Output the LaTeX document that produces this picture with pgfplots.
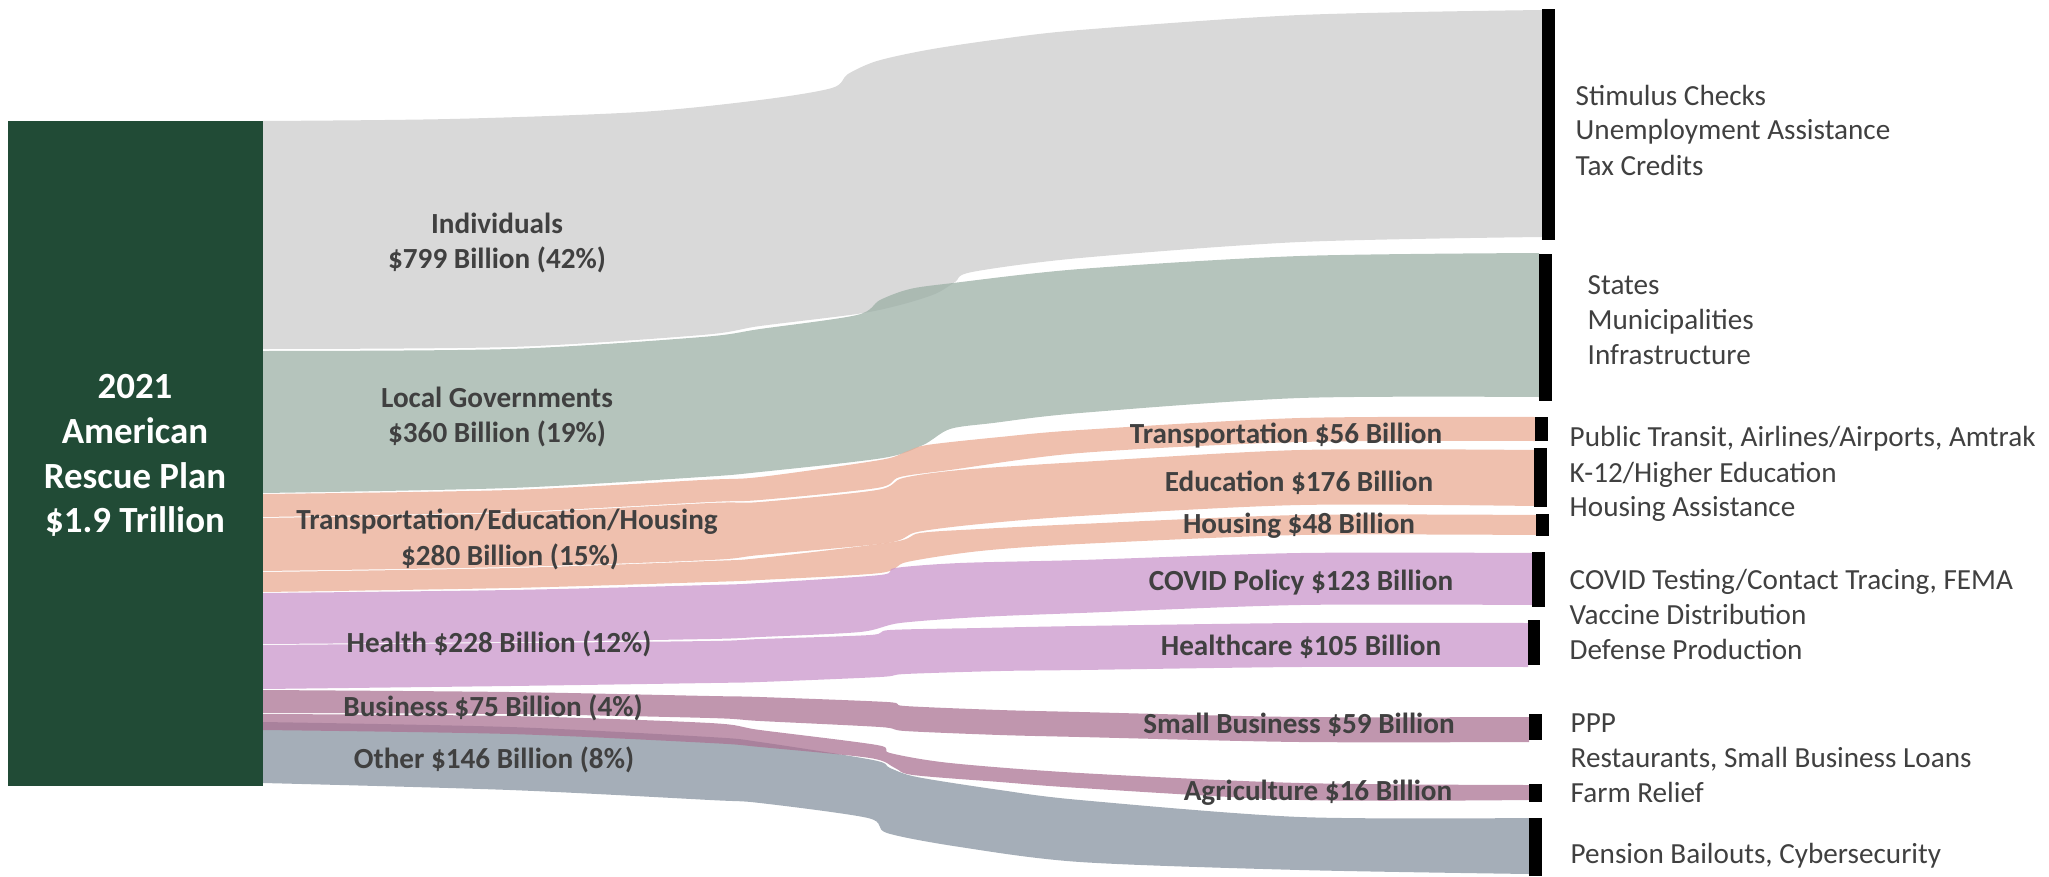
\documentclass[border=0pt]{standalone}
\usepackage{fontspec}
\setmainfont{Carlito}
\usepackage{pgfplots}
\pgfplotsset{compat=1.18}
\usepgfplotslibrary{fillbetween}

\definecolor{cInd}{RGB}{204,204,204}
\definecolor{cGov}{RGB}{156,176,166}
\definecolor{cTEH}{RGB}{234,171,147}
\definecolor{cHealth}{RGB}{202,150,203}
\definecolor{cBus}{RGB}{171,115,147}
\definecolor{cOther}{RGB}{135,147,160}
\definecolor{cBox}{RGB}{33,75,54}
\definecolor{cText}{RGB}{64,64,64}

\begin{document}
\begin{tikzpicture}[
    lbl/.style={font=\fontsize{8.3}{10}\selectfont\bfseries, text=cText, anchor=base, inner sep=0pt},
    rlbl/.style={font=\fontsize{8.3}{10}\selectfont, text=cText, anchor=base west, inner sep=0pt},
    ttl/.style={font=\fontsize{10.5}{12.6}\selectfont\bfseries, text=white, anchor=base, inner sep=0pt}]
\begin{axis}[
    width=20.49cm, height=8.76cm, scale only axis,
    xmin=0, xmax=2049, ymin=0, ymax=876,
    y dir=reverse, hide axis, clip=false,
    every axis plot/.append style={forget plot},
    edge/.style={draw=none, smooth, tension=0.5},
    band/.style={draw=none, fill=#1, fill opacity=0.75}
]
% full canvas, keeps the page the size of the axis
\addplot[draw=none] coordinates {(0,0) (2049,0) (2049,876) (0,876)} -- cycle;
% ---- Individuals
\addplot[edge, name path=indT] coordinates {(263,121) (450,119) (640,112) (760,100) (832,88) (848,74) (877,61) (927,50) (993,40) (1080,30) (1300,15) (1542,10)};
\addplot[edge, name path=indB] coordinates {(263,349) (510,347) (702,335) (760,326) (857,314) (900,305) (935,294) (955,282) (972,272) (1080,258) (1300,242) (1542,237)};
\addplot[band=cInd] fill between[of=indT and indB];
% ---- Local Governments
\addplot[edge, name path=govT] coordinates {(263,351) (510,349) (702,337) (760,329) (857,315) (880,300) (910,289) (953,283) (1080,269) (1300,256) (1539,253)};
\addplot[edge, name path=govB] coordinates {(263,493) (510,488) (702,477) (760,472) (883,458) (923,445) (950,429) (993,423) (1080,413) (1300,398) (1539,397)};
\addplot[band=cGov] fill between[of=govT and govB];
% ---- Transportation
\addplot[edge, name path=trT] coordinates {(263,494) (510,490) (702,480) (760,477) (880,460) (905,452) (927,445) (1000,437) (1080,430) (1300,418) (1535,417)};
\addplot[edge, name path=trB] coordinates {(263,517) (510,512) (710,502) (760,500) (877,488) (900,477) (950,470) (1080,453) (1300,442) (1535,441)};
\addplot[band=cTEH] fill between[of=trT and trB];
% ---- Education
\addplot[edge, name path=edT] coordinates {(263,518) (510,513) (710,503) (760,502) (877,490) (903,478) (960,470) (1080,462) (1300,450) (1535,450)};
\addplot[edge, name path=edB] coordinates {(263,571) (510,567) (710,560) (760,555) (887,543) (917,532) (980,524) (1080,516) (1300,505) (1535,506)};
\addplot[band=cTEH] fill between[of=edT and edB];
% ---- Housing
\addplot[edge, name path=hoT] coordinates {(263,572) (510,568) (710,561) (760,558) (893,542) (920,533) (980,529) (1080,524) (1300,515) (1536,515)};
\addplot[edge, name path=hoB] coordinates {(263,592) (510,588) (710,582) (760,580) (880,573) (907,562) (980,551) (1080,544) (1300,535) (1536,535)};
\addplot[band=cTEH] fill between[of=hoT and hoB];
% ---- COVID Policy
\addplot[edge, name path=cvT] coordinates {(263,593) (510,590) (710,585) (760,583) (880,575) (895,568) (960,563) (1080,560) (1300,553) (1532,553)};
\addplot[edge, name path=cvB] coordinates {(263,644) (510,642) (710,639) (760,637) (860,632) (900,623) (980,617) (1080,613) (1300,605) (1532,605)};
\addplot[band=cHealth] fill between[of=cvT and cvB];
% ---- Healthcare
\addplot[edge, name path=hcT] coordinates {(263,645) (510,643) (710,641) (760,639) (870,635) (890,630) (980,628) (1080,626) (1300,623) (1528,623)};
\addplot[edge, name path=hcB] coordinates {(263,689) (510,686) (710,683) (760,682) (880,677) (905,674) (1000,671) (1080,670) (1300,667) (1528,667)};
\addplot[band=cHealth] fill between[of=hcT and hcB];
% ---- Other
\addplot[edge, name path=otT] coordinates {(263,722) (510,727) (710,737) (760,742) (873,760) (890,768) (917,777) (1000,790) (1080,800) (1300,817) (1529,818)};
\addplot[edge, name path=otB] coordinates {(263,783) (510,790) (710,800) (760,803) (868,818) (887,833) (960,847) (1080,862) (1300,870) (1529,874)};
\addplot[band=cOther] fill between[of=otT and otB];
% ---- Small Business
\addplot[edge, name path=sbT] coordinates {(263,690) (510,692) (710,696) (760,697) (887,702) (905,706) (1000,710) (1080,712) (1300,717) (1529,717)};
\addplot[edge, name path=sbB] coordinates {(263,713) (510,714) (710,718) (760,721) (880,727) (905,731) (1000,735) (1080,737) (1300,742) (1529,742)};
\addplot[band=cBus] fill between[of=sbT and sbB];
% ---- Agriculture
\addplot[edge, name path=agT] coordinates {(263,714) (510,716) (710,723) (760,730) (877,745) (890,753) (950,763) (1080,773) (1300,783) (1529,785)};
\addplot[edge, name path=agB] coordinates {(263,730) (510,734) (710,743) (760,747) (870,758) (895,768) (913,775) (1000,782) (1080,788) (1300,800) (1529,800)};
\addplot[band=cBus] fill between[of=agT and agB];

% ---- source node
\addplot[draw=none, fill=cBox] coordinates {(8,121) (263,121) (263,786) (8,786)} -- cycle;
% ---- target bars
\addplot[draw=none, fill=black] coordinates {(1542,9) (1555,9) (1555,240) (1542,240)} -- cycle;
\addplot[draw=none, fill=black] coordinates {(1539,254) (1552,254) (1552,401) (1539,401)} -- cycle;
\addplot[draw=none, fill=black] coordinates {(1535,417) (1548,417) (1548,441) (1535,441)} -- cycle;
\addplot[draw=none, fill=black] coordinates {(1534,448) (1547,448) (1547,507) (1534,507)} -- cycle;
\addplot[draw=none, fill=black] coordinates {(1536,514) (1549,514) (1549,536) (1536,536)} -- cycle;
\addplot[draw=none, fill=black] coordinates {(1532,552) (1545,552) (1545,607) (1532,607)} -- cycle;
\addplot[draw=none, fill=black] coordinates {(1528,620) (1540,620) (1540,665) (1528,665)} -- cycle;
\addplot[draw=none, fill=black] coordinates {(1529,714) (1542,714) (1542,740) (1529,740)} -- cycle;
\addplot[draw=none, fill=black] coordinates {(1529,784) (1542,784) (1542,802) (1529,802)} -- cycle;
\addplot[draw=none, fill=black] coordinates {(1529,818) (1542,818) (1542,876) (1529,876)} -- cycle;

% ---- title in source node
\node[ttl] at (axis cs:135,398) {2021};
\node[ttl] at (axis cs:135,443) {American};
\node[ttl] at (axis cs:135,488) {Rescue Plan};
\node[ttl] at (axis cs:135,532) {\$1.9 Trillion};

% ---- band labels, left
\node[lbl] at (axis cs:497,233) {Individuals};
\node[lbl] at (axis cs:497,268) {\$799 Billion (42\%)};
\node[lbl] at (axis cs:497,407) {Local Governments};
\node[lbl] at (axis cs:497,442) {\$360 Billion (19\%)};
\node[lbl] at (axis cs:507,529) {Transportation/Education/Housing};
\node[lbl] at (axis cs:510,565) {\$280 Billion (15\%)};
\node[lbl] at (axis cs:499,652) {Health \$228 Billion (12\%)};
\node[lbl] at (axis cs:493,716) {Business \$75 Billion (4\%)};
\node[lbl] at (axis cs:494,768) {Other \$146 Billion (8\%)};

% ---- band labels, right
\node[lbl] at (axis cs:1286,443) {Transportation \$56 Billion};
\node[lbl] at (axis cs:1299,491) {Education \$176 Billion};
\node[lbl] at (axis cs:1299,533) {Housing \$48 Billion};
\node[lbl] at (axis cs:1301,590) {COVID Policy \$123 Billion};
\node[lbl] at (axis cs:1301,655) {Healthcare \$105 Billion};
\node[lbl] at (axis cs:1299,733) {Small Business \$59 Billion};
\node[lbl] at (axis cs:1318,800) {Agriculture \$16 Billion};

% ---- target descriptions
\node[rlbl] at (axis cs:1575,106) {Stimulus Checks};
\node[rlbl] at (axis cs:1575,140) {Unemployment Assistance};
\node[rlbl] at (axis cs:1575,175) {Tax Credits};
\node[rlbl] at (axis cs:1587,294) {States};
\node[rlbl] at (axis cs:1587,329) {Municipalities};
\node[rlbl] at (axis cs:1587,364) {Infrastructure};
\node[rlbl] at (axis cs:1569,446) {Public Transit, Airlines/Airports, Amtrak};
\node[rlbl] at (axis cs:1569,482) {K-12/Higher Education};
\node[rlbl] at (axis cs:1569,516) {Housing Assistance};
\node[rlbl] at (axis cs:1569,589) {COVID Testing/Contact Tracing, FEMA};
\node[rlbl] at (axis cs:1569,624) {Vaccine Distribution};
\node[rlbl] at (axis cs:1569,659) {Defense Production};
\node[rlbl] at (axis cs:1570,732) {PPP};
\node[rlbl] at (axis cs:1570,767) {Restaurants, Small Business Loans};
\node[rlbl] at (axis cs:1570,802) {Farm Relief};
\node[rlbl] at (axis cs:1570,863) {Pension Bailouts, Cybersecurity};
\end{axis}
\end{tikzpicture}
\end{document}
